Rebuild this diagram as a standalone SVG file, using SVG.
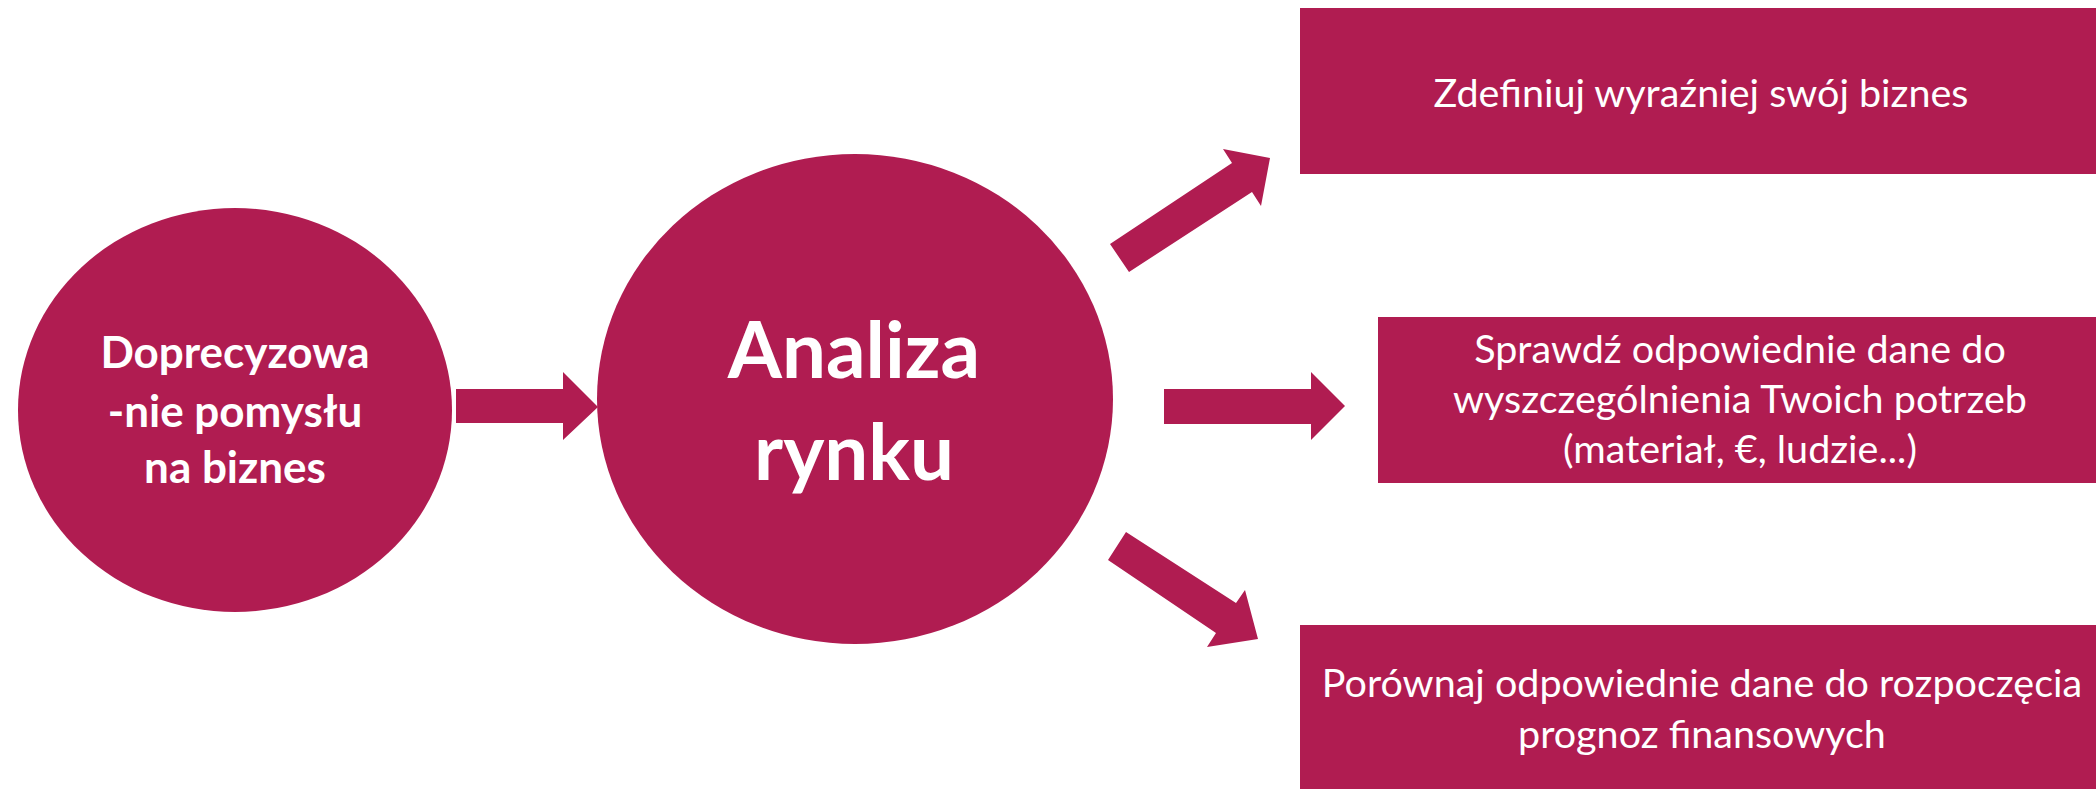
<svg xmlns="http://www.w3.org/2000/svg" width="2096" height="789" viewBox="0 0 2096 789">
<style>
.shape{fill:#B01C51}
.t{fill:#FFFFFF;font-family:Lato,"Liberation Sans",sans-serif;text-anchor:middle}
.b{font-weight:bold}
.r{font-size:39.5px}
</style>
<rect width="2096" height="789" fill="#FFFFFF"/>
<g id="connectors">
<polygon class="shape" points="456,389 563,389 563,372 598,407 563,440 563,423 456,423"/>
<polygon class="shape" points="1110,244 1232,163 1223,149 1270,158 1261,206 1252,192 1129,272"/>
<polygon class="shape" points="1164,389 1311,389 1311,372 1345,406 1311,440 1311,424 1164,424"/>
<polygon class="shape" points="1126,532 1236,603 1245,590 1258,639 1207,647 1216,633 1108,560"/>
</g>
<g id="node-doprecyzowanie">
<ellipse class="shape" cx="235" cy="410" rx="217" ry="202"/>
<text class="t b" x="235" y="368" font-size="44">Doprecyzowa</text>
<text class="t b" x="235" y="427" font-size="44">-nie pomysłu</text>
<text class="t b" x="235" y="483" font-size="44">na biznes</text>
</g>
<g id="node-analiza">
<ellipse class="shape" cx="855" cy="399" rx="258" ry="245"/>
<text class="t b" x="854" y="378" font-size="78">Analiza</text>
<text class="t b" x="854" y="480" font-size="78">rynku</text>
</g>
<g id="node-zdefiniuj">
<rect class="shape" x="1300" y="8" width="796" height="166"/>
<text class="t r" x="1701" y="107">Zdefiniuj wyraźniej swój biznes</text>
</g>
<g id="node-sprawdz">
<rect class="shape" x="1378" y="317" width="718" height="166"/>
<text class="t r" x="1740" y="363">Sprawdź odpowiednie dane do</text>
<text class="t r" x="1740" y="413">wyszczególnienia Twoich potrzeb</text>
<text class="t r" x="1740" y="463">(materiał, €, ludzie...)</text>
</g>
<g id="node-porownaj">
<rect class="shape" x="1300" y="625" width="796" height="166"/>
<text class="t r" x="1702" y="697">Porównaj odpowiednie dane do rozpoczęcia</text>
<text class="t r" x="1702" y="748">prognoz finansowych</text>
</g>
</svg>
